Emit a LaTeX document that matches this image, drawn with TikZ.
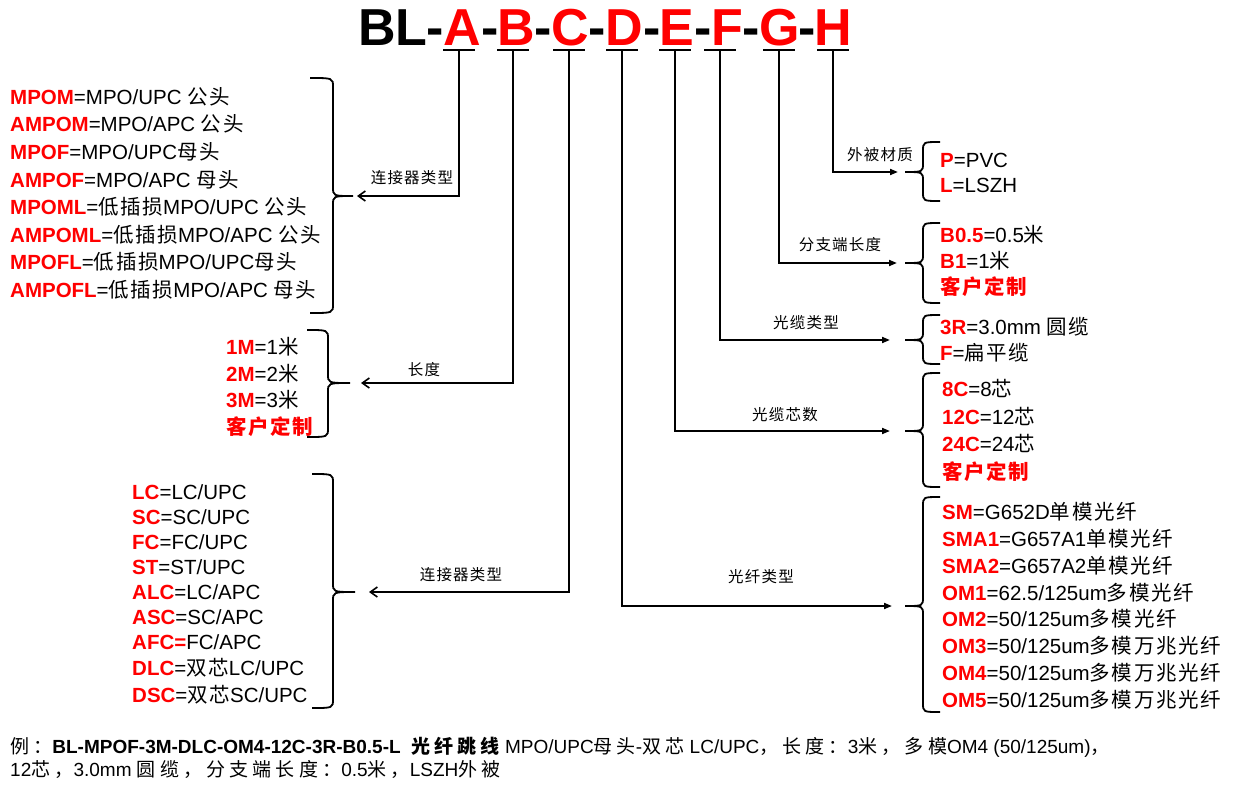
\documentclass[tikz,border=0pt]{standalone}
\usepackage{fontspec}
\setmainfont{Liberation Sans}
\newfontfamily\cjk{Noto Sans CJK SC}[LetterSpace=8]
\newfontfamily\cjkwide{Noto Sans CJK SC}[LetterSpace=22]
\usetikzlibrary{arrows.meta,calc}
\definecolor{pred}{RGB}{255,0,0}
\newcommand\cj[1]{{\cjk #1}}
\newcommand\cw[1]{{\cjkwide #1}}
\newcommand\rd[1]{\textcolor{pred}{\bfseries #1}}
\newcommand\rdc[1]{\textcolor{pred}{\cjk\bfseries #1}}
% name, x-end, x-spine, x-tip, top, mid, bottom
\newcommand\mybrace[7]{%
  \draw[bracestyle] (#2,#5) .. controls (#3,#5) .. (#3,{#5+9}) -- (#3,{#6-9})
    .. controls (#3,#6) .. (#4,#6) .. controls (#3,#6) .. (#3,{#6+9})
    -- (#3,{#7-9}) .. controls (#3,#7) .. (#2,#7);
  \coordinate (#1) at (#4,#6);}
\begin{document}
\begin{tikzpicture}[x=1pt,y=-1pt,
  bracestyle/.style={line width=1.8pt},
  tline/.style={line width=1.8pt},
  connl/.style={line width=1.8pt,-{Straight Barb[length=7pt,width=10pt,line width=1.6pt]}},
  connr/.style={line width=1.8pt,-{Triangle[length=8pt,width=6pt]}},
  ttl/.style={inner sep=0pt,anchor=base,font=\fontsize{52}{52}\selectfont\bfseries},
  ltr/.style={ttl,text=pred},
  lst/.style={inner sep=0pt,anchor=base west,align=left},
  lab/.style={inner sep=0pt,font=\cjk\fontsize{15.5}{16}\selectfont}]
\useasboundingbox[fill=white] (0,0) rectangle (1236,798);

% ---- title ----
\node[ttl,anchor=base west] (BL) at (358,45) {BL};
\node[ttl] (d1) at (435,45) {-};
\node[ltr] (A) at (462.5,45) {A};
\node[ttl] (d2) at (490,45) {-};
\node[ltr] (B) at (516.5,45) {B};
\node[ttl] (d3) at (543,45) {-};
\node[ltr] (C) at (570,45) {C};
\node[ttl] (d4) at (597,45) {-};
\node[ltr] (D) at (624.5,45) {D};
\node[ttl] (d5) at (652,45) {-};
\node[ltr] (E) at (677,45) {E};
\node[ttl] (d6) at (703.5,45) {-};
\node[ltr] (F) at (727.5,45) {F};
\node[ttl] (d7) at (751.5,45) {-};
\node[ltr] (G) at (780,45) {G};
\node[ttl] (d8) at (807.5,45) {-};
\node[ltr] (H) at (833,45) {H};

\coordinate (tA) at (459,50);
\coordinate (tB) at (513,50);
\coordinate (tC) at (569,50);
\coordinate (tD) at (622,50);
\coordinate (tE) at (675,50);
\coordinate (tF) at (720,50);
\coordinate (tG) at (779,50);
\coordinate (tH) at (833,50);
\foreach \t in {tA,tB,tC,tD,tE,tF,tG,tH}
  \draw[tline] ($(\t)+(-16,0)$) -- ($(\t)+(16,0)$);

% ---- braces ----
\mybrace{bA}{310}{333}{353}{78}{196}{313}
\mybrace{bB}{307}{328}{350}{330}{383}{437}
\mybrace{bC}{312}{333}{355}{474}{592}{708}
\mybrace{bD}{940}{923}{905}{497}{606}{712}
\mybrace{bE}{940}{923}{905}{373}{431}{487}
\mybrace{bF}{940}{923}{905}{315}{340}{364}
\mybrace{bG}{940}{923}{905}{223}{263}{303}
\mybrace{bH}{940}{923}{905}{142}{172}{201}

% ---- arrow end points ----
\coordinate (eA) at ($(bA)+(4,0)$);
\coordinate (eB) at ($(bB)+(11,0)$);
\coordinate (eC) at ($(bC)+(14,0)$);
\coordinate (eD) at ($(bD)+(-13,0)$);
\coordinate (eE) at ($(bE)+(-15,0)$);
\coordinate (eF) at ($(bF)+(-15,0)$);
\coordinate (eG) at ($(bG)+(-8,0)$);
\coordinate (eH) at ($(bH)+(-7,0)$);

\draw[connl] (tA) |- (eA);
\draw[connl] (tB) |- (eB);
\draw[connl] (tC) |- (eC);
\draw[connr] (tD) |- (eD);
\draw[connr] (tE) |- (eE);
\draw[connr] (tF) |- (eF);
\draw[connr] (tG) |- (eG);
\draw[connr] (tH) |- (eH);

% ---- labels ----
\node[lab] (lA) at (412,178) {连接器类型};
\node[lab] (lB) at (424,370) {长度};
\node[lab] (lC) at (461,575) {连接器类型};
\node[lab] (lD) at (761,577) {光纤类型};
\node[lab] (lE) at (785,415) {光缆芯数};
\node[lab] (lF) at (806,323) {光缆类型};
\node[lab] (lG) at (840,245) {分支端长度};
\node[lab] (lH) at (880,155) {外被材质};

% ---- lists (anchored at the baseline of their last line) ----
\node[lst,font=\fontsize{20.5}{27.57}\selectfont] (listA) at (10,297.3) {%
\rd{MPOM}=MPO/UPC \cj{公头}\\
\rd{AMPOM}=MPO/APC \cj{公头}\\
\rd{MPOF}=MPO/UPC\cj{母头}\\
\rd{AMPOF}=MPO/APC \cj{母头}\\
\rd{MPOML}=\cj{低插损}MPO/UPC \cj{公头}\\
\rd{AMPOML}=\cj{低插损}MPO/APC \cj{公头}\\
\rd{MPOFL}=\cj{低插损}MPO/UPC\cj{母头}\\
\rd{AMPOFL}=\cj{低插损}MPO/APC \cj{母头}};

\node[lst,font=\fontsize{20.5}{26.7}\selectfont] (listB) at (226,434.4) {%
\rd{1M}=1\cj{米}\\
\rd{2M}=2\cj{米}\\
\rd{3M}=3\cj{米}\\
\rdc{客户定制}};

\node[lst,font=\fontsize{20.5}{25.1}\selectfont] (listC) at (132,702.1) {%
\rd{LC}=LC/UPC\\
\rd{SC}=SC/UPC\\
\rd{FC}=FC/UPC\\
\rd{ST}=ST/UPC\\
\rd{ALC}=LC/APC\\
\rd{ASC}=SC/APC\\
\rd{AFC=}FC/APC\\
\rd{DLC}=\cj{双芯}LC/UPC\\[2pt]
\rd{DSC}=\cj{双芯}SC/UPC};

\node[lst,font=\fontsize{20.5}{26.9}\selectfont] (listD) at (942,707.6) {%
\rd{SM}=G652D\cj{单模光纤}\\
\rd{SMA1}=G657A1\cj{单模光纤}\\
\rd{SMA2}=G657A2\cj{单模光纤}\\
\rd{OM1}=62.5/125um\cj{多模光纤}\\
\rd{OM2}=50/125um\cj{多模光纤}\\
\rd{OM3}=50/125um\cj{多模万兆光纤}\\
\rd{OM4}=50/125um\cj{多模万兆光纤}\\
\rd{OM5}=50/125um\cj{多模万兆光纤}};

\node[lst,font=\fontsize{20.5}{27.7}\selectfont] (listE) at (942,479.4) {%
\rd{8C}=8\cj{芯}\\
\rd{12C}=12\cj{芯}\\
\rd{24C}=24\cj{芯}\\
\rdc{客户定制}};

\node[lst,font=\fontsize{20.5}{26}\selectfont] (listF) at (940,360.3) {%
\rd{3R}=3.0mm \cj{圆缆}\\
\rd{F}=\cj{扁平缆}};

\node[lst,font=\fontsize{20.5}{26}\selectfont] (listG) at (940,294.3) {%
\rd{B0.5}=0.5\cj{米}\\
\rd{B1}=1\cj{米}\\
\rdc{客户定制}};

\node[lst,font=\fontsize{20.5}{25}\selectfont] (listH) at (940,192.3) {%
\rd{P}=PVC\\
\rd{L}=LSZH};

% ---- example ----
\node[lst,font=\fontsize{19}{23.5}\selectfont] (ex) at (10,776.8) {%
\cw{例：}{\bfseries BL-MPOF-3M-DLC-OM4-12C-3R-B0.5-L\ \ \cw{光纤跳线}} MPO/UPC\cw{母头}-\cw{双芯} LC/UPC\cw{，长度：}3\cw{米，多模}OM4 (50/125um)\cw{，}\\
12\cw{芯，}3.0mm \cw{圆缆，分支端长度：}0.5\cw{米，}LSZH\cw{外被}};
\end{tikzpicture}
\end{document}
